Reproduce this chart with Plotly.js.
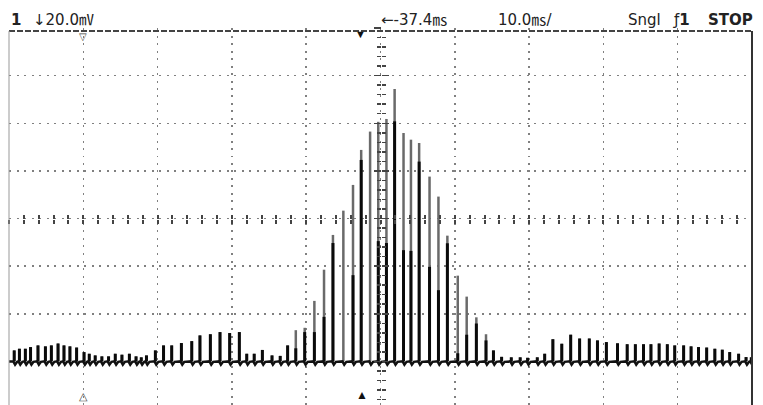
<!DOCTYPE html>
<html>
<head>
<meta charset="utf-8">
<script src="https://cdn.plot.ly/plotly-3.0.1.min.js"></script>
<style>
html,body{margin:0;padding:0;background:#fff;overflow:hidden;}
#chart{width:763px;height:409px;}
</style>
</head>
<body>
<div id="chart"></div>
<script>
// Time of each pulse (ms)
const timeMs = [-86.7,-86.0,-85.2,-84.5,-83.5,-82.5,-81.7,-80.8,-80.0,-79.2,-78.3,-77.3,-76.6,-75.8,-74.9,-74.0,-73.1,-72.2,-71.2,-70.3,
  -69.6,-68.9,-67.7,-66.6,-65.5,-64.2,-62.8,-61.7,-60.3,-59.0,-57.7,-56.4,-55.4,-54.4,-53.3,-52.0,-50.9,-49.9,-48.8,-47.6,
  -46.3,-45.0,-43.8,-42.4,-41.1,-40.0,-38.8,-37.7,-36.6,-35.5,-34.3,-33.3,-32.2,-30.8,-29.6,-28.4,-27.0,-25.8,-24.5,-23.2,
  -22.2,-21.1,-19.8,-18.6,-17.6,-16.3,-15.3,-14.2,-13.0,-11.8,-10.6,-9.3,-8.2,-7.0,-5.5,-4.2,-3.1,-2.0,-1.0,0.1,
  1.2,2.2,3.4,4.4,5.4,6.5,7.6,8.6,9.6,10.8,11.8,12.5];
// Peak voltage of each pulse (mV), thin grey envelope
const peakMv = [-55.4,-54.7,-54.7,-54.0,-53.3,-53.7,-53.3,-52.5,-53.3,-53.7,-54.2,-56.1,-56.8,-57.5,-57.9,-57.9,-56.8,-57.2,-56.8,-57.9,
  -58.3,-57.5,-55.4,-53.3,-53.3,-52.3,-51.5,-49.1,-48.6,-47.7,-48.1,-47.7,-56.8,-56.8,-55.2,-57.5,-57.7,-53.3,-46.9,-45.9,
  -34.6,-21.5,-6.9,3.3,14.1,28.8,36.5,40.6,41.8,54.4,35.9,33.1,31.7,17.6,9.2,-7.2,-24.0,-32.8,-41.5,-48.6,
  -55.4,-58.1,-58.3,-58.3,-58.5,-58.3,-56.8,-50.7,-52.6,-48.8,-50.4,-50.4,-51.2,-51.9,-52.4,-52.8,-52.8,-52.8,-52.8,-52.5,
  -52.8,-53.3,-53.3,-53.7,-54.0,-54.2,-54.7,-55.1,-56.1,-56.8,-58.2,-58.3];
// Dense (black) part of each pulse (mV)
const coreMv = [-55.4,-54.7,-54.7,-54.0,-53.3,-53.7,-53.3,-52.5,-53.3,-53.7,-54.2,-56.1,-56.8,-57.5,-57.9,-57.9,-56.8,-57.2,-56.8,-57.9,
  -58.3,-57.5,-55.4,-53.3,-53.3,-52.3,-51.5,-49.1,-48.6,-47.7,-48.1,-47.7,-56.8,-56.8,-55.2,-57.5,-57.7,-53.3,-54.5,-47.7,
  -47.7,-41.3,-10.3,-60.0,-23.8,24.6,-60.0,-9.5,-10.3,40.8,-13.3,-13.6,23.9,-20.3,-30.1,-10.4,-56.6,-48.8,-44.1,-51.2,
  -55.4,-58.1,-58.3,-58.3,-58.5,-58.3,-56.8,-50.7,-52.6,-48.8,-50.4,-50.4,-51.2,-51.9,-52.4,-52.8,-52.8,-52.8,-52.8,-52.5,
  -52.8,-53.3,-53.3,-53.7,-54.0,-54.2,-54.7,-55.1,-56.1,-56.8,-58.2,-58.3];
const baselineMv = -60.0;
const xRange = [-87.4, 12.6];   // 10.0 ms/div, delay -37.4 ms
const yRange = [-80, 80];       // 20.0 mV/div

function spikes(tops){
  const x=[], y=[];
  timeMs.forEach((t,i)=>{ x.push(t,t,null); y.push(baselineMv,tops[i],null); });
  return {x,y};
}
const g = spikes(peakMv), c = spikes(coreMv);
const bx=[xRange[0]], by=[baselineMv];
timeMs.forEach(t=>{ bx.push(t-0.12,t+0.12,t+0.4); by.push(baselineMv,baselineMv-1.4,baselineMv-0.2); });
bx.push(xRange[1]); by.push(baselineMv);

const traces = [
  {x:g.x,y:g.y,mode:'lines',line:{color:'#6a6a6a',width:2.5},connectgaps:false,hoverinfo:'skip'},
  {x:c.x,y:c.y,mode:'lines',line:{color:'#0a0a0a',width:3},connectgaps:false,hoverinfo:'skip'},
  {x:bx,y:by,mode:'lines',line:{color:'#111',width:2.5},hoverinfo:'skip'},
  {x:[],y:[],xaxis:'x2',yaxis:'y2'},
  {x:[],y:[],xaxis:'x3',yaxis:'y3'}
];

const gridDash='2px,5.5px';
const tickCol='#444';
const font={family:"'DejaVu Sans','Noto Sans CJK JP',sans-serif",size:15,color:'#222'};
function ann(text,xp,xa,extra){return Object.assign({text:text,xref:'paper',yref:'paper',x:xp,y:1.022,xanchor:xa,yanchor:'middle',showarrow:false,font:font},extra||{});}
function px(p){return (p-9)/743;}

const layout = {
  width:763,height:409,
  margin:{l:9,r:11,t:28,b:0,pad:0},
  paper_bgcolor:'#fff',plot_bgcolor:'#fff',showlegend:false,
  xaxis:{range:xRange,tick0:-87.4,dtick:10,showgrid:true,gridcolor:'#808080',gridwidth:1.5,griddash:gridDash,
         zeroline:false,showline:false,showticklabels:false,ticks:''},
  yaxis:{range:yRange,tick0:0,dtick:20,showgrid:true,gridcolor:'#808080',gridwidth:1.5,griddash:gridDash,
         zeroline:false,showline:false,showticklabels:false,ticks:''},
  xaxis2:{range:xRange,overlaying:'x',anchor:'free',position:0.5,side:'bottom',tick0:-87.4,dtick:2,ticks:'outside',
          ticklen:4,tickwidth:2,tickcolor:tickCol,showgrid:false,zeroline:false,showline:false,showticklabels:false},
  xaxis3:{range:xRange,overlaying:'x',anchor:'free',position:0.5,side:'bottom',tick0:-87.4,dtick:2,ticks:'inside',
          ticklen:4,tickwidth:2,tickcolor:tickCol,showgrid:false,zeroline:false,showline:false,showticklabels:false},
  yaxis2:{range:yRange,overlaying:'y',anchor:'free',position:0.5,side:'left',tick0:0,dtick:20,ticks:'outside',
          ticklen:7,tickwidth:1.5,tickcolor:tickCol,showgrid:false,zeroline:false,showline:false,showticklabels:false,
          minor:{ticks:'outside',tick0:0,dtick:4,ticklen:4,tickwidth:1.5,tickcolor:tickCol}},
  yaxis3:{range:yRange,overlaying:'y',anchor:'free',position:0.5,side:'left',tick0:0,dtick:20,ticks:'inside',
          ticklen:7,tickwidth:1.5,tickcolor:tickCol,showgrid:false,zeroline:false,showline:false,showticklabels:false,
          minor:{ticks:'inside',tick0:0,dtick:4,ticklen:4,tickwidth:1.5,tickcolor:tickCol}},
  shapes:[
    {type:'line',xref:'paper',yref:'paper',x0:0,x1:1,y0:1-3/381,y1:1-3/381,line:{color:'#444',width:2,dash:'6px,2px'}},
    {type:'line',xref:'paper',yref:'paper',x0:0,x1:0,y0:0,y1:1-3/381,line:{color:'#999',width:1}},
    {type:'line',xref:'paper',yref:'paper',x0:1,x1:1,y0:0,y1:1-3/381,line:{color:'#333',width:2}}
  ],
  annotations:[
    ann('<b>1</b>',px(9),'left'),
    ann('↓20.0㎷',px(31),'left'),
    ann('←-37.4㎳',px(379),'left'),
    ann('10.0㎳/',px(496),'left'),
    ann('Sngl',px(626),'left'),
    ann('ƒ<b>1</b>',px(671),'left'),
    ann('<b>STOP</b>',px(755),'right'),
    {text:'▽',xref:'paper',yref:'paper',x:px(83),y:1-8/381,xanchor:'center',yanchor:'middle',showarrow:false,font:{size:10,color:'#444'}},
    {text:'▼',xref:'paper',yref:'paper',x:px(360),y:1-6/381,xanchor:'center',yanchor:'middle',showarrow:false,font:{size:11,color:'#111'}},
    {text:'△',xref:'paper',yref:'paper',x:px(83),y:14/381,xanchor:'center',yanchor:'middle',showarrow:false,font:{size:11,color:'#444'}},
    {text:'▲',xref:'paper',yref:'paper',x:px(362),y:15/381,xanchor:'center',yanchor:'middle',showarrow:false,font:{size:12,color:'#111'}}
  ]
};
Plotly.newPlot('chart',traces,layout,{staticPlot:true,displayModeBar:false});
</script>
</body>
</html>
